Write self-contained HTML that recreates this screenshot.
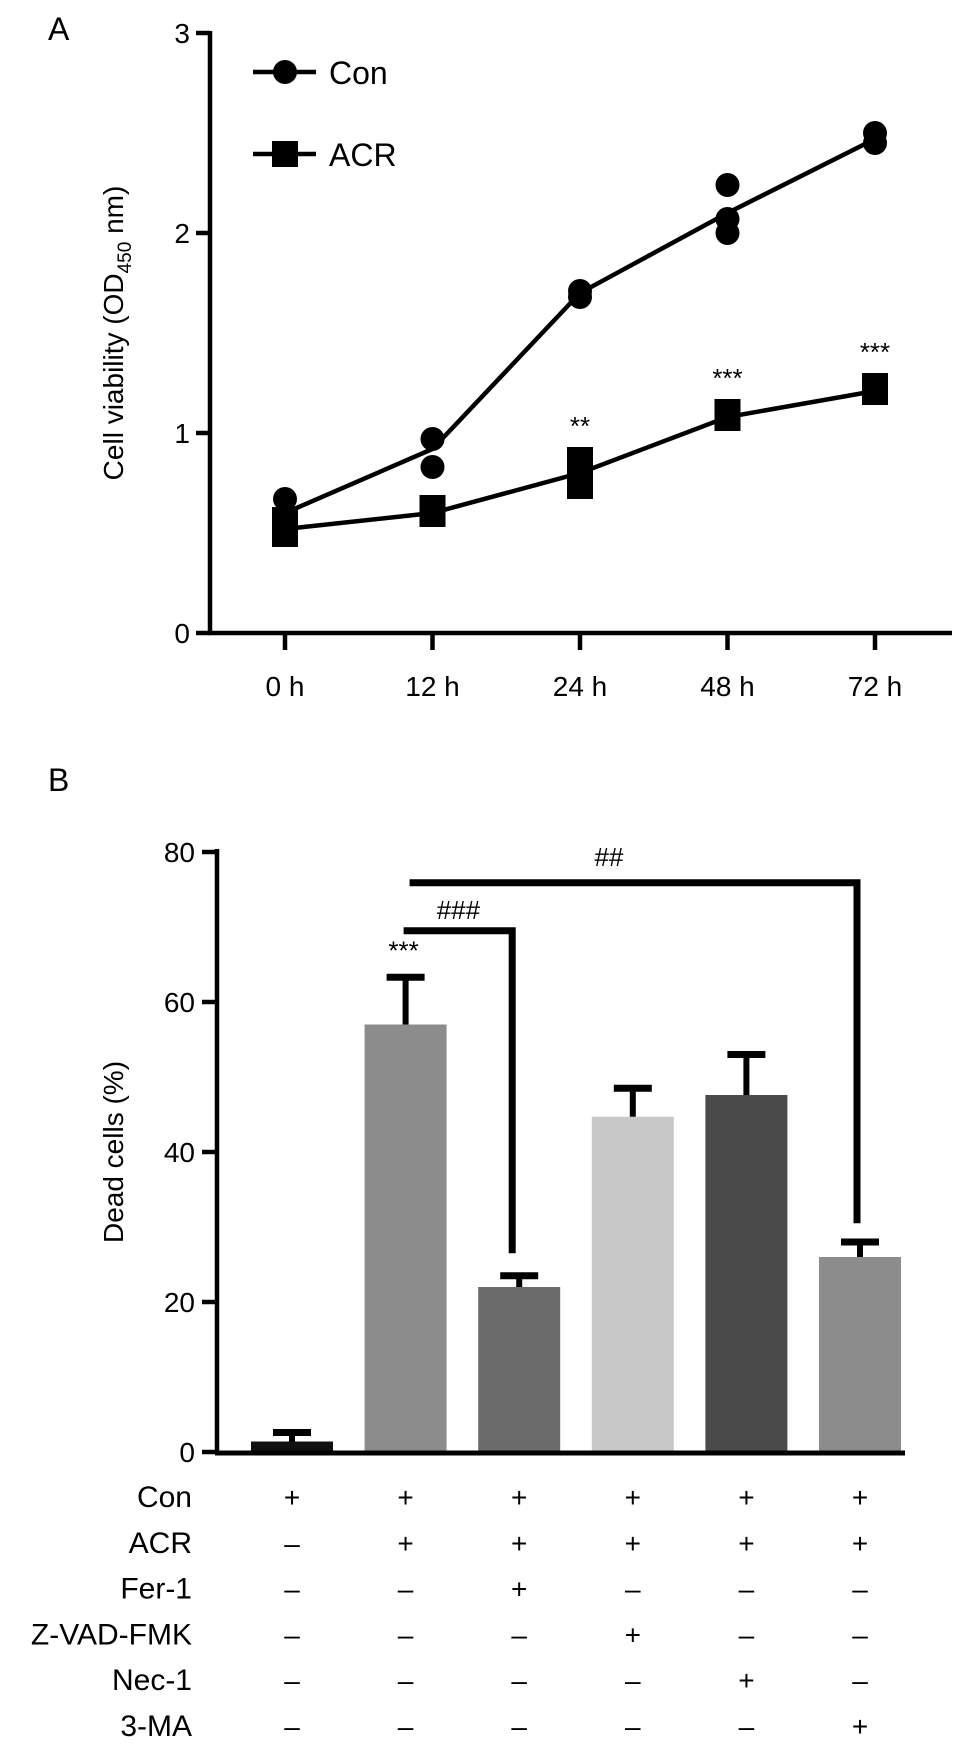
<!DOCTYPE html>
<html><head><meta charset="utf-8"><style>
body{margin:0;background:#fff;}
svg{display:block;font-family:"Liberation Sans",sans-serif;}
</style></head><body>
<svg id="fig" width="969" height="1750" viewBox="0 0 969 1750">
<g id="panelA"></g>
<g id="panelB"></g>
</svg>
<script>
const NS="http://www.w3.org/2000/svg";
function mk(parent,tag,attrs,text){const e=document.createElementNS(NS,tag);for(const k in attrs)e.setAttribute(k,attrs[k]);if(text!==undefined)e.textContent=text;parent.appendChild(e);return e;}
// ---- Panel A data ----
const timeLabels=["0 h","12 h","24 h","48 h","72 h"];
const conMeans=[0.60,0.92,1.70,2.10,2.47];
const conPoints=[[0.67,0.58],[0.97,0.83],[1.71,1.68],[2.24,2.07,2.00],[2.50,2.45]];
const acrMeans=[0.52,0.60,0.80,1.08,1.21];
const acrPoints=[[0.50,0.56],[0.60,0.62],[0.74,0.86],[1.08,1.10],[1.21,1.23]];
const acrSig=["","","**","***","***"];
const yTicksA=[0,1,2,3];
// ---- Panel B data ----
const groups=["con","acr","fer1","zvad","nec1","3ma"];
const deadVals=[1.4,57,22,44.7,47.6,26];
const deadErr=[1.2,6.3,1.5,3.8,5.4,2];
const yTicksB=[0,20,40,60,80];
const rowLabels=["Con","ACR","Fer-1","Z-VAD-FMK","Nec-1","3-MA"];
const signs=[["+","+","+","+","+","+"],["\u2013","+","+","+","+","+"],["\u2013","\u2013","+","\u2013","\u2013","\u2013"],["\u2013","\u2013","\u2013","+","\u2013","\u2013"],["\u2013","\u2013","\u2013","\u2013","+","\u2013"],["\u2013","\u2013","\u2013","\u2013","\u2013","+"]];

// ===== Panel A =====
const A=document.getElementById('panelA');
const xA=i=>285+i*147.5, yA=v=>633-v*200;
mk(A,'text',{x:48,y:40,'font-size':32,},'A');
mk(A,'line',{x1:210,y1:31,x2:210,y2:635,stroke:'#000','stroke-width':4.5,});
mk(A,'line',{x1:208,y1:633,x2:952,y2:633,stroke:'#000','stroke-width':4.5,});
yTicksA.forEach(t=>{mk(A,'line',{x1:196,y1:yA(t),x2:210,y2:yA(t),stroke:'#000','stroke-width':4.5,});
mk(A,'text',{x:190,y:yA(t)+10,'font-size':28,'text-anchor':'end',},t);});
timeLabels.forEach((l,i)=>{mk(A,'line',{x1:xA(i),y1:633,x2:xA(i),y2:650,stroke:'#000','stroke-width':4.5,});
mk(A,'text',{x:xA(i),y:696,'font-size':28,'text-anchor':'middle',},l);});
const yl=mk(A,'text',{transform:'translate(123,333) rotate(-90)','font-size':28,'text-anchor':'middle',},'Cell viability (OD');
mk(yl,'tspan',{'font-size':19,dy:8},'450');mk(yl,'tspan',{dy:-8},' nm)');
mk(A,'polyline',{points:conMeans.map((v,i)=>xA(i)+','+yA(v)).join(' '),fill:'none',stroke:'#000','stroke-width':4.5,});
mk(A,'polyline',{points:acrMeans.map((v,i)=>xA(i)+','+yA(v)).join(' '),fill:'none',stroke:'#000','stroke-width':4.5,});
conPoints.forEach((ps,i)=>ps.forEach(v=>mk(A,'circle',{cx:xA(i),cy:yA(v),r:12,fill:'#000',})));
acrPoints.forEach((ps,i)=>ps.forEach(v=>mk(A,'rect',{x:xA(i)-13,y:yA(v)-14,width:26,height:28,fill:'#000',})));
acrSig.forEach((s,i)=>{if(s)mk(A,'text',{x:xA(i),y:yA(acrPoints[i][acrPoints[i].length-1])-26,'font-size':26,'text-anchor':'middle',},s);});
mk(A,'line',{x1:253,y1:72,x2:316,y2:72,stroke:'#000','stroke-width':4.5,});
mk(A,'circle',{cx:285,cy:72,r:12,fill:'#000',});
mk(A,'text',{x:329,y:84,'font-size':32,},'Con');
mk(A,'line',{x1:253,y1:154,x2:316,y2:154,stroke:'#000','stroke-width':4.5,});
mk(A,'rect',{x:272,y:141,width:26,height:26,fill:'#000',});
mk(A,'text',{x:329,y:166,'font-size':32,},'ACR');

// ===== Panel B =====
const B=document.getElementById('panelB');
const xB=i=>292+i*113.6;
const yB=v=>1452-v*7.5;
const cols=['#111','#8c8c8c','#6b6b6b','#c8c8c8','#4a4a4a','#8c8c8c'];
mk(B,'text',{x:48,y:791,'font-size':32,},'B');
mk(B,'line',{x1:217,y1:849,x2:217,y2:1454,stroke:'#000','stroke-width':4.5,});
yTicksB.forEach(t=>{mk(B,'line',{x1:202,y1:yB(t),x2:217,y2:yB(t),stroke:'#000','stroke-width':4.5,});
mk(B,'text',{x:195,y:yB(t)+10,'font-size':28,'text-anchor':'end',},t);});
mk(B,'text',{transform:'translate(123,1152) rotate(-90)','font-size':28,'text-anchor':'middle',},'Dead cells (%)');
deadVals.forEach((v,i)=>{
 const el=mk(B,'rect',{x:xB(i)-41,y:yB(v),width:82,height:yB(0)-yB(v),fill:cols[i]});
 
 
 const top=yB(v+deadErr[i]);
 mk(B,'line',{x1:xB(i),y1:yB(v),x2:xB(i),y2:top,stroke:'#000','stroke-width':6,});
 mk(B,'line',{x1:xB(i)-19,y1:top,x2:xB(i)+19,y2:top,stroke:'#000','stroke-width':7,});
});
mk(B,'line',{x1:215,y1:1453,x2:905,y2:1453,stroke:'#000','stroke-width':5,});
mk(B,'text',{x:xB(1)-2,y:yB(deadVals[1]+deadErr[1])-18,'font-size':26,'text-anchor':'middle',},'***');
// brackets
const y1=yB(69.5), y2=yB(75.9);
mk(B,'polyline',{points:`${xB(1)-2},${y1} ${xB(2)-7},${y1} ${xB(2)-7},${yB(deadVals[2]+deadErr[2]+3)}`,fill:'none',stroke:'#000','stroke-width':7,});
mk(B,'text',{x:(xB(1)+xB(2))/2-4,y:y1-12,'font-size':26,'text-anchor':'middle',},'###');
mk(B,'polyline',{points:`${xB(1)+4},${y2} ${xB(5)-3},${y2} ${xB(5)-3},${yB(deadVals[5]+deadErr[5]+2.5)}`,fill:'none',stroke:'#000','stroke-width':7,});
mk(B,'text',{x:609,y:y2-17,'font-size':26,'text-anchor':'middle',},'##');
// treatment table
rowLabels.forEach((l,r)=>{const y=1507+r*45.8;
 const t=mk(B,'text',{x:192,y:y,'font-size':30,'text-anchor':'end'},l);
 
 
 signs[r].forEach((s,c)=>mk(B,'text',{x:xB(c),y:y,'font-size':28,'text-anchor':'middle','fill':'#000',},s));
});
</script>
</body></html>
